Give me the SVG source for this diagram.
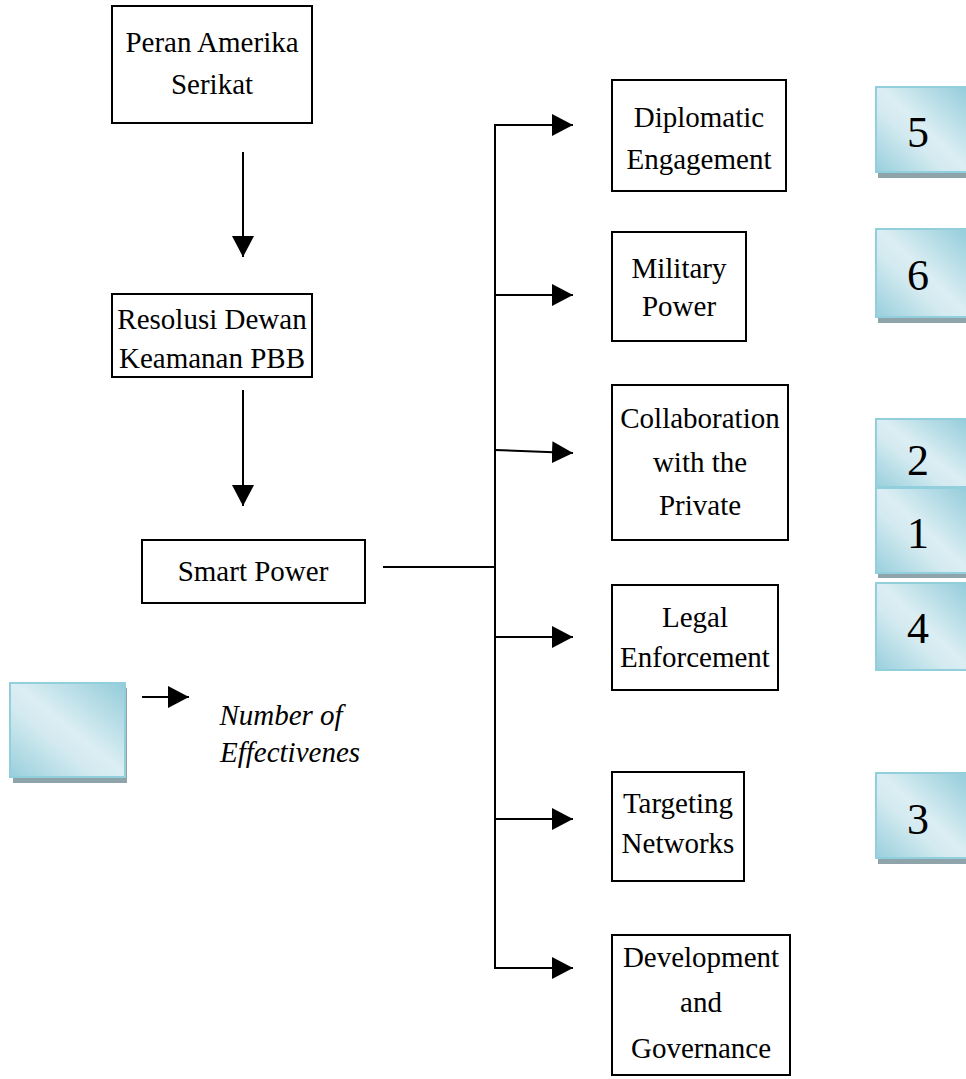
<svg xmlns="http://www.w3.org/2000/svg" width="966" height="1079" viewBox="0 0 966 1079">
<style>
.box{fill:#fff;stroke:#000;stroke-width:2}
.t{font-family:"Liberation Serif","Times New Roman",serif;font-size:29px;fill:#000;text-anchor:middle}
.n{font-family:"Liberation Serif","Times New Roman",serif;font-size:44px;fill:#000;text-anchor:middle}
.it{font-style:italic}
.ln{stroke:#000;stroke-width:2;fill:none}
.nb{fill:url(#g);stroke:#92cfdc;stroke-width:2}
.sh{fill:#8fa3aa}
</style>
<defs>
<linearGradient id="g" x1="1" y1="0" x2="0" y2="1">
<stop offset="0" stop-color="#93ccda"/>
<stop offset="0.48" stop-color="#dbeef3"/>
<stop offset="0.62" stop-color="#d3eaf0"/>
<stop offset="1" stop-color="#98cfdc"/>
</linearGradient>
<marker id="ah" markerUnits="userSpaceOnUse" markerWidth="22" markerHeight="22" viewBox="0 0 22 22" refX="21" refY="11" orient="auto">
<path d="M0,0 L21,11 L0,22 Z" fill="#000"/>
</marker>
</defs>

<g id="connectors">
<line class="ln" x1="243" y1="152" x2="243" y2="257" marker-end="url(#ah)"/>
<line class="ln" x1="243" y1="390" x2="243" y2="506" marker-end="url(#ah)"/>
<line class="ln" x1="383" y1="567" x2="495" y2="567"/>
<line class="ln" x1="495" y1="124" x2="495" y2="969"/>
<line class="ln" x1="494" y1="125" x2="573" y2="125" marker-end="url(#ah)"/>
<line class="ln" x1="495" y1="295" x2="573" y2="295" marker-end="url(#ah)"/>
<line class="ln" x1="495" y1="450" x2="573" y2="453" marker-end="url(#ah)"/>
<line class="ln" x1="495" y1="637" x2="573" y2="637" marker-end="url(#ah)"/>
<line class="ln" x1="495" y1="819" x2="573" y2="819" marker-end="url(#ah)"/>
<line class="ln" x1="494" y1="968" x2="573" y2="968" marker-end="url(#ah)"/>
<line class="ln" x1="142" y1="697" x2="189" y2="697" marker-end="url(#ah)"/>
</g>

<g id="peran">
<rect class="box" x="112" y="6" width="200" height="117"/>
<text class="t" x="212" y="52">Peran Amerika</text>
<text class="t" x="212" y="94">Serikat</text>
</g>
<g id="resolusi">
<rect class="box" x="112" y="294" width="200" height="83"/>
<text class="t" x="212" y="329">Resolusi Dewan</text>
<text class="t" x="212" y="368">Keamanan PBB</text>
</g>
<g id="smart">
<rect class="box" x="142" y="540" width="223" height="63"/>
<text class="t" x="253" y="581">Smart Power</text>
</g>

<g id="diplomatic">
<rect class="box" x="612" y="80" width="174" height="111"/>
<text class="t" x="699" y="127">Diplomatic</text>
<text class="t" x="699" y="169">Engagement</text>
</g>
<g id="military">
<rect class="box" x="612" y="232" width="134" height="109"/>
<text class="t" x="679" y="278">Military</text>
<text class="t" x="679" y="316">Power</text>
</g>
<g id="collaboration">
<rect class="box" x="612" y="385" width="176" height="155"/>
<text class="t" x="700" y="428">Collaboration</text>
<text class="t" x="700" y="472">with the</text>
<text class="t" x="700" y="515">Private</text>
</g>
<g id="legal">
<rect class="box" x="612" y="585" width="166" height="105"/>
<text class="t" x="695" y="627">Legal</text>
<text class="t" x="695" y="667">Enforcement</text>
</g>
<g id="targeting">
<rect class="box" x="612" y="772" width="132" height="109"/>
<text class="t" x="678" y="813">Targeting</text>
<text class="t" x="678" y="853">Networks</text>
</g>
<g id="development">
<rect class="box" x="612" y="935" width="178" height="140"/>
<text class="t" x="701" y="967">Development</text>
<text class="t" x="701" y="1012">and</text>
<text class="t" x="701" y="1058">Governance</text>
</g>

<g id="num5">
<rect class="sh" x="878" y="172" width="88" height="6"/>
<rect class="nb" x="876" y="87" width="92" height="85"/>
<text class="n" x="918" y="147">5</text>
</g>
<g id="num6">
<rect class="sh" x="878" y="317" width="88" height="6"/>
<rect class="nb" x="876" y="229" width="92" height="88"/>
<text class="n" x="918" y="290">6</text>
</g>
<g id="num2">
<rect class="nb" x="876" y="419" width="92" height="68"/>
<text class="n" x="918" y="475">2</text>
</g>
<g id="num1">
<rect class="sh" x="878" y="573" width="88" height="5"/>
<rect class="nb" x="876" y="488" width="92" height="85"/>
<text class="n" x="918" y="548">1</text>
</g>
<g id="num4">
<rect class="nb" x="876" y="583" width="92" height="87"/>
<text class="n" x="918" y="643">4</text>
</g>
<g id="num3">
<rect class="sh" x="878" y="858" width="88" height="6"/>
<rect class="nb" x="876" y="773" width="92" height="85"/>
<text class="n" x="918" y="834">3</text>
</g>

<g id="legend">
<rect class="sh" x="13" y="688" width="114" height="95"/>
<rect class="nb" x="10" y="683" width="115" height="94"/>
<text class="t it" x="281" y="725">Number of</text>
<text class="t it" x="290" y="762">Effectivenes</text>
</g>
</svg>
